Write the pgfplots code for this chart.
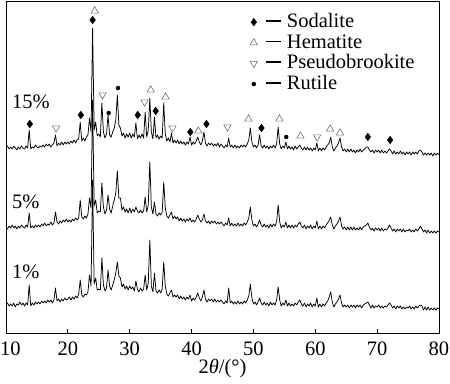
\documentclass[border=0pt]{standalone}
\usepackage{fontspec}
\setmainfont{Liberation Serif}
\usepackage{pgfplots}
\pgfplotsset{compat=1.18}
\usepackage{pgfplotstable}
\pgfplotstableread{
x a b c
10.00 148 227 305
10.25 146 229 303
10.50 149 226 306
10.75 147 228 304
11.00 149 225 306
11.25 146 228 303
11.50 148 226 307
11.75 150 229 304
12.00 147 226 305
12.25 149 228 302
12.50 146 225 305
12.75 148 227 303
13.00 149 228 306
13.25 146 225 303
13.50 148 227 305
13.75 130 213 285
14.00 149 228 306
14.25 147 226 303
14.50 148 228 305
14.75 145 225 302
15.00 147 227 304
15.25 148 225 302
15.50 146 227 304
15.75 147 224 301
16.00 145 226 303
16.25 147 223 301
16.50 144 226 303
16.75 146 224 300
17.00 144 225 302
17.25 147 222 300
17.50 145 225 303
17.75 143 223 300
18.00 135 212 288
18.25 146 222 301
18.50 143 224 299
18.75 145 221 302
19.00 142 223 299
19.25 145 220 301
19.50 142 222 298
19.75 144 219 300
20.00 142 222 299
20.25 144 220 297
20.50 141 222 300
20.75 143 219 297
21.00 140 221 299
21.25 143 218 296
21.50 140 220 298
21.75 139 218 294
22.00 122 200 280
22.25 141 217 295
22.50 138 219 297
22.75 141 216 294
23.00 137 218 295
23.25 135 214 292
23.50 118 198 275
23.75 132 208 286
24.00 28 100 180
24.25 130 206 284
24.50 122 200 278
24.75 136 213 290
25.00 134 211 289
25.25 137 212 290
25.50 103 183 258
25.75 132 207 285
26.00 138 214 291
26.25 134 210 288
26.50 115 195 270
26.75 135 209 286
27.00 137 213 290
27.25 132 206 285
27.50 128 200 280
27.75 120 193 273
28.00 95 171 262
28.25 125 198 276
28.50 128 198 278
28.75 136 210 287
29.00 133 207 284
29.25 138 212 289
29.50 134 209 286
29.75 137 213 290
30.00 133 208 286
30.25 138 213 289
30.50 134 209 287
30.75 137 212 291
31.00 123 207 281
31.25 139 211 289
31.50 135 213 292
31.75 138 210 288
32.00 134 213 291
32.25 138 211 289
32.50 112 197 275
32.75 137 212 290
33.00 130 205 283
33.25 98 162 240
33.50 132 207 286
33.75 139 214 292
34.00 117 202 273
34.25 138 214 291
34.50 135 216 293
34.75 139 213 290
35.00 136 215 293
35.25 138 212 289
35.50 103 182 262
35.75 134 208 286
36.00 141 216 294
36.25 138 218 296
36.50 142 215 293
36.75 133 212 290
37.00 143 219 297
37.25 140 216 295
37.50 143 219 297
37.75 140 217 295
38.00 144 221 299
38.25 141 218 296
38.50 144 221 299
38.75 142 219 297
39.00 145 222 300
39.25 142 219 297
39.50 144 221 299
39.75 137 218 295
40.00 145 222 301
40.25 142 220 298
40.50 144 222 300
40.75 141 219 297
41.00 137 215 293
41.25 142 219 298
41.50 145 222 301
41.75 141 220 297
42.00 132 214 290
42.25 143 221 299
42.50 146 223 302
42.75 143 221 299
43.00 145 224 301
43.25 143 221 299
43.50 146 223 302
43.75 144 221 299
44.00 146 224 302
44.25 143 222 300
44.50 147 224 302
44.75 144 222 300
45.00 146 224 302
45.25 148 226 304
45.50 145 223 301
45.75 147 225 303
46.00 138 218 288
46.25 147 226 303
46.50 145 223 301
46.75 148 226 304
47.00 145 224 302
47.25 148 226 304
47.50 146 223 301
47.75 148 226 304
48.00 145 224 302
48.25 147 226 304
48.50 145 223 301
48.75 147 225 303
49.00 144 222 300
49.25 140 218 296
49.50 128 207 284
49.75 142 220 298
50.00 147 226 304
50.25 145 224 302
50.50 148 227 305
50.75 145 224 302
51.00 135 220 298
51.25 146 225 303
51.50 148 227 305
51.75 145 224 302
52.00 148 227 305
52.25 146 225 303
52.50 149 228 306
52.75 146 224 302
53.00 148 227 305
53.25 145 224 303
53.50 148 226 305
53.75 144 222 300
54.00 127 205 287
54.25 144 222 300
54.50 149 228 306
54.75 146 225 303
55.00 148 227 305
55.25 142 222 300
55.50 149 228 306
55.75 146 225 303
56.00 149 228 306
56.25 147 225 304
56.50 150 228 306
56.75 146 225 303
57.00 149 227 305
57.25 147 224 302
57.50 145 222 300
57.75 148 226 304
58.00 150 228 306
58.25 147 225 303
58.50 150 229 307
58.75 147 226 304
59.00 150 228 306
59.25 148 225 303
59.50 151 229 307
59.75 148 226 304
60.00 150 228 306
60.25 143 221 298
60.50 151 229 307
60.75 148 226 304
61.00 151 229 307
61.25 148 226 304
61.50 150 228 306
61.75 147 225 303
62.00 145 223 301
62.25 143 220 297
62.50 137 217 292
62.75 147 225 302
63.00 151 229 307
63.25 148 226 304
63.50 146 224 302
63.75 143 221 299
64.00 138 217 295
64.25 147 226 303
64.50 151 229 307
64.75 149 227 305
65.00 152 230 307
65.25 149 227 305
65.50 152 230 308
65.75 149 227 305
66.00 152 230 307
66.25 150 227 305
66.50 153 230 308
66.75 150 228 305
67.00 152 230 307
67.25 149 227 305
67.50 152 230 308
67.75 150 227 305
68.00 149 226 304
68.25 147 225 303
68.50 147 223 302
68.75 150 227 305
69.00 152 230 308
69.25 150 228 305
69.50 153 231 308
69.75 150 228 306
70.00 152 230 307
70.25 150 228 305
70.50 153 231 308
70.75 150 228 306
71.00 153 231 308
71.25 151 229 306
71.50 153 230 307
71.75 151 228 305
72.00 149 225 303
72.25 151 228 305
72.50 154 231 308
72.75 151 229 306
73.00 154 232 309
73.25 152 229 306
73.50 154 231 308
73.75 151 229 306
74.00 154 232 309
74.25 152 229 307
74.50 155 232 309
74.75 152 230 307
75.00 154 231 308
75.25 152 229 306
75.50 155 232 309
75.75 152 230 307
76.00 154 232 309
76.25 152 229 306
76.50 154 231 308
76.75 151 229 306
77.00 150 226 305
77.25 152 229 306
77.50 155 232 310
77.75 153 230 307
78.00 155 233 310
78.25 153 230 307
78.50 155 233 310
78.75 153 231 308
79.00 156 233 310
79.25 153 231 308
79.50 155 233 310
79.75 153 231 308
80.00 155 232 309
}\xrd
\definecolor{hgray}{RGB}{110,110,110}
\newcommand{\fs}{\fontsize{20.5bp}{24bp}\selectfont}
\newcommand{\dash}{\rule[0.28em]{0.72em}{0.075em}\hspace{0.28em}}
\begin{document}
\fs
\begin{tikzpicture}
\useasboundingbox (0,0) rectangle (450bp,384bp);
\begin{axis}[
  at={(6bp,51bp)}, anchor=south west,
  scale only axis, width=433bp, height=332bp,
  xmin=10, xmax=80, ymin=1, ymax=333, y dir=reverse,
  xtick={10,20,...,80}, ytick=\empty,
  xticklabels={\makebox[0pt][l]{\hspace*{-6bp}10},20,30,40,50,60,70,80},
  tick align=inside, xtick pos=lower, major tick length=4bp,
  axis line style={line width=0.9bp},
  every tick/.style={line width=0.8bp, black},
  /pgf/number format/assume math mode=true,
  xticklabel style={font=\fs, anchor=base, yshift=-22bp, inner sep=0pt},
  xlabel={2\textit{θ}/(°)},
  xlabel style={font=\fs, at={(axis description cs:0.5,0)}, anchor=base, yshift=-40bp, inner sep=0pt},
  legend style={draw=none, fill=none, inner sep=0pt, outer sep=0pt,
    at={(0.564,0.9648)}, anchor=north west,
    font=\fs, row sep=1.8bp,
    nodes={inner sep=0pt, text height=0.72em, text depth=0.2em},
    /tikz/every odd column/.append style={column sep=9bp}},
  legend cell align=left,
]
\addlegendimage{legend image code/.code={\draw[black, mark=diamond*, mark size=3.8bp] plot coordinates {(0bp,0bp)};}}
\addlegendentry{\dash Sodalite}
\addlegendimage{legend image code/.code={\draw[hgray, line width=0.6bp, mark=triangle, mark size=4.2bp] plot coordinates {(0bp,0bp)};}}
\addlegendentry{\dash Hematite}
\addlegendimage{legend image code/.code={\draw[hgray, line width=0.6bp, mark=triangle, mark size=4.2bp, mark options={rotate=180}] plot coordinates {(0bp,0bp)};}}
\addlegendentry{\dash Pseudobrookite}
\addlegendimage{legend image code/.code={\draw[black, mark=*, mark size=2bp] plot coordinates {(0bp,0bp)};}}
\addlegendentry{\dash Rutile}

\addplot[black, line width=0.75bp, line join=round, forget plot] table[x=x, y=a] {\xrd};
\addplot[black, line width=0.75bp, line join=round, forget plot] table[x=x, y=b] {\xrd};
\addplot[black, line width=0.75bp, line join=round, forget plot] table[x=x, y=c] {\xrd};

\addplot[only marks, black, mark=diamond*, mark size=3.8bp, forget plot] coordinates {
(13.85,124) (22.1,115) (24.0,20) (31.3,115) (34.2,111) (39.8,132) (42.4,124) (51.3,128) (68.5,137) (72.1,140)};
\addplot[only marks, hgray, line width=0.6bp, mark=triangle, mark size=4.2bp, forget plot] coordinates {
(24.35,11) (33.4,90) (35.8,97) (41.1,131) (49.2,119) (54.2,119) (57.6,136) (62.4,129) (64.0,133)};
\addplot[only marks, hgray, line width=0.6bp, mark=triangle, mark size=4.2bp, mark options={rotate=180}, forget plot] coordinates {
(18.1,128) (25.6,95) (32.4,102) (36.9,128) (45.8,127) (60.3,137)};
\addplot[only marks, black, mark=*, mark size=2bp, forget plot] coordinates {
(26.6,113) (28.1,88) (55.3,137)};

\node[anchor=west, inner sep=0pt] at (axis cs:10.97,102) {15\%};
\node[anchor=west, inner sep=0pt] at (axis cs:10.97,202) {5\%};
\node[anchor=west, inner sep=0pt] at (axis cs:10.97,272) {1\%};
\end{axis}
\end{tikzpicture}
\end{document}
